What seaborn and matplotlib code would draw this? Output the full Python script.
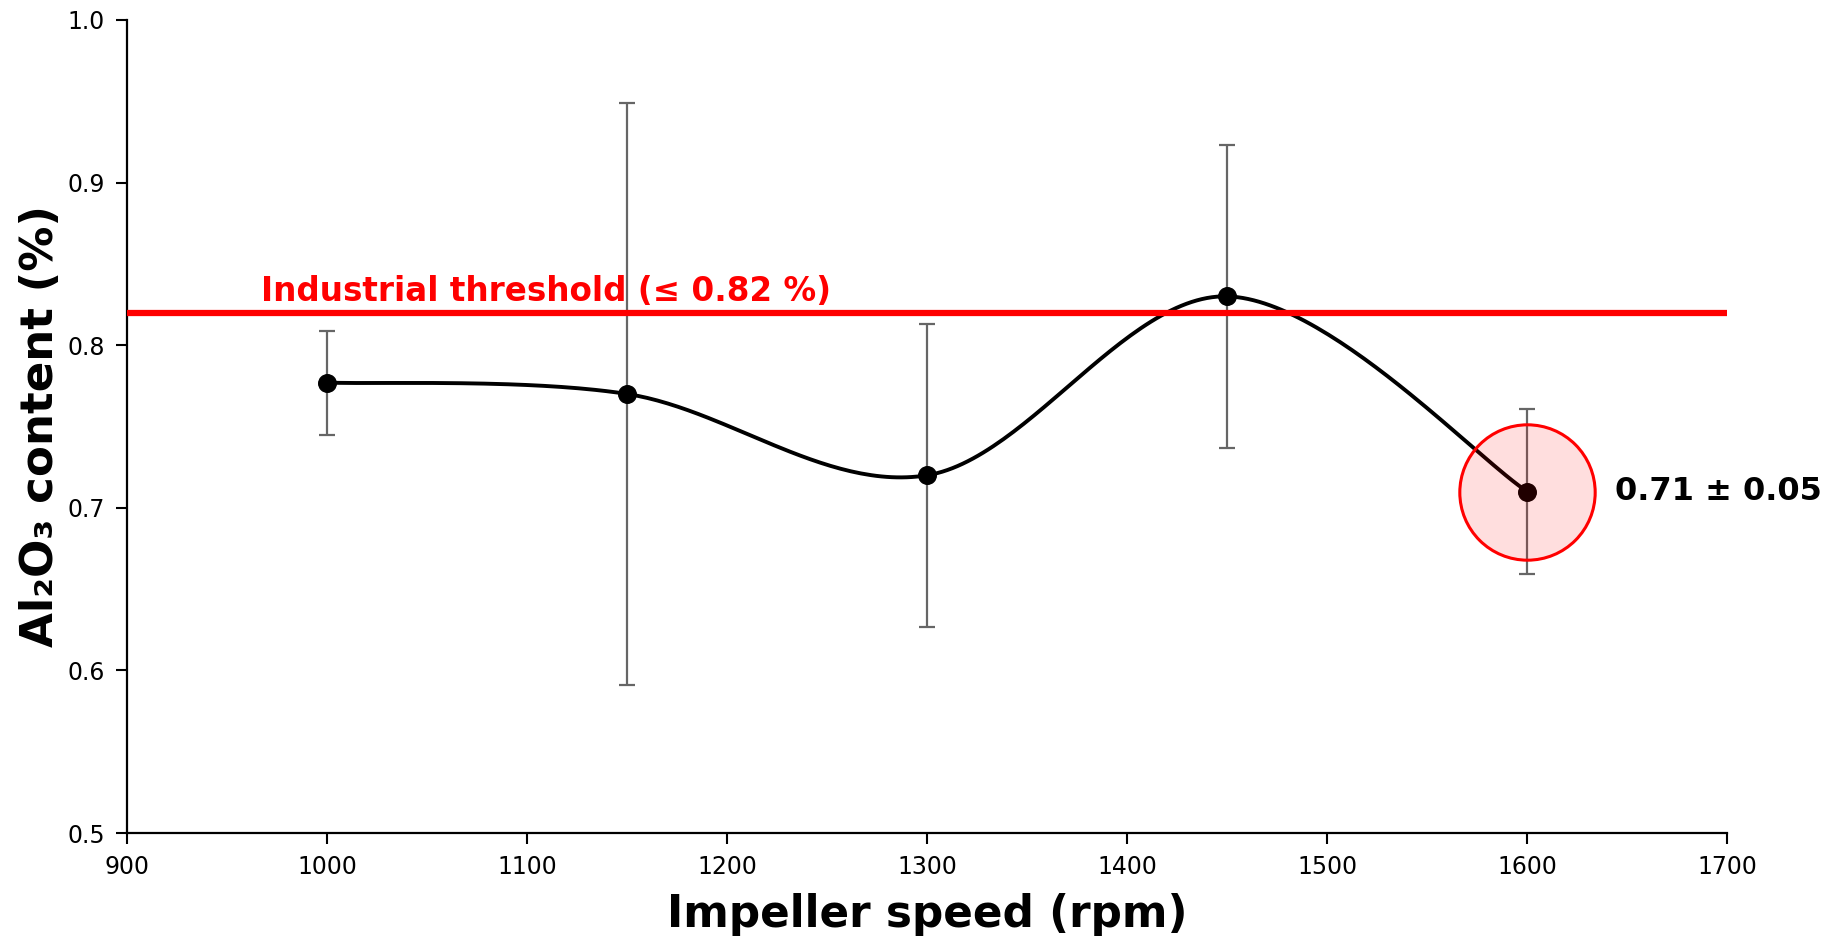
import numpy as np
import pandas as pd
import seaborn as sns
import matplotlib.pyplot as plt

# data
speed = [1000, 1150, 1300, 1450, 1600]
al2o3 = [0.777, 0.770, 0.720, 0.830, 0.710]
err = [0.032, 0.179, 0.093, 0.093, 0.051]
threshold = 0.82
xticks = [900, 1000, 1100, 1200, 1300, 1400, 1500, 1600, 1700]
yticks = [0.5, 0.6, 0.7, 0.8, 0.9, 1.0]


def smooth(xs, ys, n=60):
    # Excel style smoothed line (bezier, 1/6 neighbour tangents)
    p = np.column_stack([xs, ys]).astype(float)
    pts = np.vstack([p[0], p, p[-1]])
    out = []
    t = np.linspace(0, 1, n)[:, None]
    for i in range(1, len(pts) - 2):
        a, b = pts[i], pts[i + 1]
        c1 = a + (pts[i + 1] - pts[i - 1]) / 6
        c2 = b - (pts[i + 2] - pts[i]) / 6
        seg = (1 - t) ** 3 * a + 3 * (1 - t) ** 2 * t * c1 + 3 * (1 - t) * t ** 2 * c2 + t ** 3 * b
        out.append(seg)
    out = np.vstack(out)
    return out[:, 0], out[:, 1]


def main():
    sns.set_theme(style="white")
    plt.rcParams['font.family'] = ['DejaVu Sans']
    df = pd.DataFrame({"speed": speed, "al2o3": al2o3, "err": err})

    fig = plt.figure(figsize=(18.29, 9.4), dpi=100)
    ax = fig.add_axes([0.0694, 0.1138, 0.875, 0.865])

    # error bars
    ax.errorbar(df["speed"], df["al2o3"], yerr=df["err"], fmt="none",
                ecolor="#666666", elinewidth=1.6, capsize=6, capthick=1.6, zorder=2)

    # smoothed line
    sx, sy = smooth(df["speed"], df["al2o3"])
    sns.lineplot(x=sx, y=sy, ax=ax, color="black", linewidth=2.8, sort=False, zorder=3)
    sns.scatterplot(data=df, x="speed", y="al2o3", ax=ax, color="black", s=160,
                    edgecolor="black", zorder=4)

    # threshold
    ax.axhline(threshold, color="red", linewidth=4.5, zorder=5)
    ax.text(967, threshold + 0.003, "Industrial threshold (≤ 0.82 %)", color="red",
            fontsize=23.5, fontweight="bold", ha="left", va="bottom")

    # highlight last point
    last = df.iloc[-1]
    ax.scatter([last["speed"]], [last["al2o3"]], s=9500, facecolor=(1, 0, 0, 0.13),
               edgecolor="red", linewidth=2.2, zorder=6)
    ax.text(last["speed"] + 44, last["al2o3"], f"{last['al2o3']:.2f} ± {last['err']:.2f}",
            fontsize=23, fontweight="bold", ha="left", va="center", color="black")

    ax.set_xlim(900, 1700)
    ax.set_ylim(0.5, 1.0)
    ax.set_xticks(xticks)
    ax.set_yticks(yticks)
    ax.set_yticklabels([f"{v:.1f}" for v in yticks])
    ax.tick_params(axis="both", labelsize=17, direction="out", length=8, width=1.5,
                   colors="black", left=True, bottom=True, pad=8)
    for s in ["top", "right"]:
        ax.spines[s].set_visible(False)
    for s in ["left", "bottom"]:
        ax.spines[s].set_color("black")
        ax.spines[s].set_linewidth(1.6)

    ax.set_xlabel("Impeller speed (rpm)", fontsize=31.5, fontweight="bold",
                  color="black", labelpad=10)
    ax.set_ylabel("Al₂O₃ content (%)", fontsize=32.5, fontweight="bold",
                  color="black", labelpad=4)

    fig.savefig("out.png", dpi=100)


if __name__ == '__main__':
    main()
